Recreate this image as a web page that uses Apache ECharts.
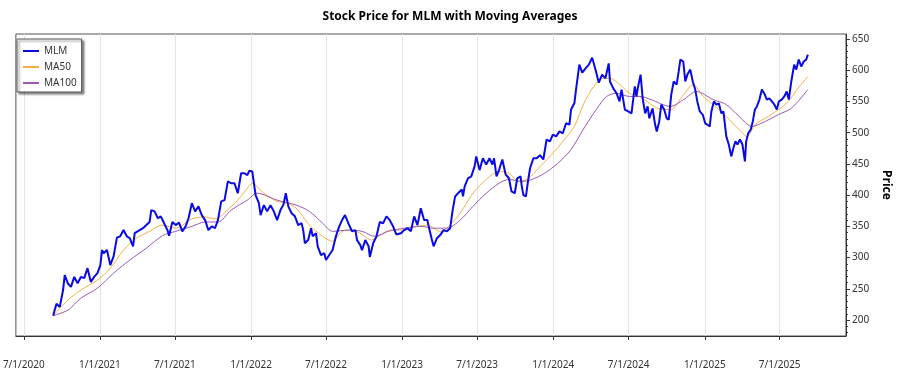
<!DOCTYPE html>
<html>
<head>
<meta charset="utf-8">
<script src="https://cdn.jsdelivr.net/npm/echarts@6/dist/echarts.min.js"></script>
<style>
html,body{margin:0;padding:0;background:#fff;}
#chart{width:900px;height:375px;}
</style>
</head>
<body>
<div id="chart"></div>
<script>
const mlmDates = ['2020-09-10','2020-09-18','2020-09-26','2020-10-04','2020-10-08','2020-10-16','2020-10-23','2020-10-31','2020-11-08','2020-11-16','2020-11-24','2020-12-02','2020-12-10','2020-12-18','2020-12-26',
'2021-01-02','2021-01-06','2021-01-10','2021-01-18','2021-01-26','2021-02-03','2021-02-11','2021-02-19','2021-02-27','2021-03-07','2021-03-14','2021-03-22','2021-03-26','2021-04-07','2021-04-15','2021-04-23','2021-05-01','2021-05-05','2021-05-13','2021-05-21','2021-05-28','2021-06-05','2021-06-13','2021-06-17','2021-06-25','2021-07-03','2021-07-11','2021-07-19','2021-07-27','2021-08-03','2021-08-11','2021-08-19','2021-08-27','2021-09-04','2021-09-12','2021-09-20','2021-09-28','2021-10-06','2021-10-13','2021-10-21','2021-10-29','2021-11-06','2021-11-14','2021-11-22','2021-11-30','2021-12-08','2021-12-16','2021-12-23','2021-12-28',
'2022-01-04','2022-01-08','2022-01-12','2022-01-20','2022-01-24','2022-02-01','2022-02-09','2022-02-17','2022-02-25','2022-03-05','2022-03-13','2022-03-20','2022-03-26','2022-04-01','2022-04-09','2022-04-17','2022-04-25','2022-05-03','2022-05-07','2022-05-11','2022-05-19','2022-05-26','2022-05-30','2022-06-07','2022-06-11','2022-06-19','2022-06-27','2022-07-01','2022-07-09','2022-07-17','2022-07-25','2022-08-02','2022-08-09','2022-08-16','2022-08-24','2022-09-02','2022-09-10','2022-09-14','2022-09-22','2022-09-26','2022-10-04','2022-10-12','2022-10-15','2022-10-23','2022-10-31','2022-11-08','2022-11-16','2022-11-24','2022-12-02','2022-12-10','2022-12-18','2022-12-29',
'2023-01-06','2023-01-14','2023-01-22','2023-01-30','2023-02-07','2023-02-15','2023-02-23','2023-03-03','2023-03-06','2023-03-14','2023-03-18','2023-03-26','2023-04-03','2023-04-11','2023-04-19','2023-04-27','2023-05-03','2023-05-09','2023-05-16','2023-05-25','2023-05-28','2023-06-01','2023-06-09','2023-06-17','2023-06-25','2023-06-29','2023-07-07','2023-07-15','2023-07-23','2023-07-31','2023-08-07','2023-08-11','2023-08-17','2023-08-23','2023-08-31','2023-09-08','2023-09-16','2023-09-22','2023-09-30','2023-10-06','2023-10-14','2023-10-17','2023-10-21','2023-10-27','2023-11-01','2023-11-06','2023-11-14','2023-11-22','2023-11-30','2023-12-08','2023-12-16','2023-12-24','2023-12-31',
'2024-01-08','2024-01-16','2024-01-24','2024-02-01','2024-02-09','2024-02-13','2024-02-21','2024-02-25','2024-03-04','2024-03-11','2024-03-19','2024-03-27','2024-04-04','2024-04-12','2024-04-20','2024-04-28','2024-05-06','2024-05-14','2024-05-17','2024-05-25','2024-06-02','2024-06-09','2024-06-14','2024-06-22','2024-06-30','2024-07-08','2024-07-16','2024-07-20','2024-07-24','2024-07-30','2024-08-04','2024-08-10','2024-08-16','2024-08-20','2024-08-28','2024-09-03','2024-09-07','2024-09-13','2024-09-18','2024-09-25','2024-10-01','2024-10-06','2024-10-12','2024-10-18','2024-10-25','2024-10-30','2024-11-03','2024-11-10','2024-11-15','2024-11-20','2024-11-27','2024-12-03','2024-12-09','2024-12-14','2024-12-20','2024-12-27',
'2025-01-02','2025-01-07','2025-01-13','2025-01-17','2025-01-23','2025-01-29','2025-02-04','2025-02-10','2025-02-15','2025-02-22','2025-02-28','2025-03-06','2025-03-11','2025-03-16','2025-03-21','2025-03-27','2025-04-02','2025-04-08','2025-04-11','2025-04-16','2025-04-22','2025-04-27','2025-05-02','2025-05-07','2025-05-13','2025-05-19','2025-05-26','2025-05-31','2025-06-06','2025-06-12','2025-06-18','2025-06-24','2025-06-29','2025-07-06','2025-07-12','2025-07-18','2025-07-23','2025-07-29','2025-08-05','2025-08-10','2025-08-16','2025-08-22','2025-08-28','2025-09-03','2025-09-07'];
const mlmValues = [207,226,221,248,272,258,253,269,259,269,267,283,261,269,275,
288,312,307,312,288,302,332,334,344,334,331,318,339,344,347,352,357,376,374,363,366,355,344,335,357,352,356,342,350,363,387,374,382,368,360,344,350,347,360,390,392,422,419,419,403,435,435,432,439,
438,419,400,387,368,384,374,384,374,360,376,384,403,382,371,366,352,355,344,323,328,347,334,339,318,304,307,296,304,312,334,350,360,368,355,342,344,328,320,312,328,318,301,323,334,357,355,366,360,350,337,339,
344,347,342,366,352,379,360,360,350,328,318,331,336,344,342,347,376,398,403,409,398,414,427,430,446,462,440,459,449,459,449,459,430,440,457,433,427,406,403,427,430,414,400,398,422,443,459,459,464,457,489,486,497,
494,502,499,515,513,537,547,569,609,596,603,609,620,601,580,593,587,611,582,571,563,550,569,537,534,531,574,558,574,593,555,531,542,523,539,513,502,518,545,537,523,521,561,582,577,598,617,614,582,593,601,582,569,550,534,529,
515,513,510,534,550,545,547,531,534,494,481,462,475,486,481,489,481,454,486,499,505,518,537,542,553,569,561,553,555,550,545,537,550,553,558,566,553,582,609,601,617,606,614,617,625];

const ma50Dates = ['2020-09-10','2020-10-16','2020-11-16','2020-12-26','2021-01-26','2021-02-27','2021-03-30','2021-05-01','2021-06-01','2021-07-03','2021-08-11','2021-09-12','2021-10-06','2021-10-29','2021-11-30','2021-12-23','2022-01-04','2022-02-01','2022-03-05','2022-03-28','2022-04-20','2022-05-22','2022-06-23','2022-07-17','2022-08-09','2022-09-02','2022-09-26','2022-10-19','2022-11-12','2022-12-05','2023-01-06','2023-02-07','2023-03-03','2023-04-03','2023-04-19','2023-05-21','2023-06-21','2023-07-23','2023-08-23','2023-09-16','2023-10-10','2023-11-02','2023-11-26','2023-12-27','2024-01-28','2024-02-21','2024-03-15','2024-04-08','2024-05-01','2024-05-17','2024-06-10','2024-07-03','2024-07-27','2024-08-08','2024-09-09','2024-10-10','2024-11-11','2024-12-04','2024-12-28','2025-01-21','2025-02-22','2025-03-25','2025-04-13','2025-05-03','2025-06-04','2025-06-28','2025-07-22','2025-08-14','2025-09-07'];
const ma50Values = [207,232,248,264,283,312,331,342,352,347,362,365,362,372,392,411,419,403,390,387,379,352,334,326,342,344,337,328,337,344,344,350,352,342,347,371,403,425,438,435,422,427,443,464,489,510,547,574,587,587,577,563,558,553,539,537,561,577,558,545,526,505,494,513,526,537,550,571,590];

const ma100Dates = ['2020-09-10','2020-10-16','2020-11-16','2020-12-26','2021-02-03','2021-03-14','2021-04-23','2021-06-01','2021-07-03','2021-08-11','2021-09-12','2021-10-13','2021-11-14','2021-12-23','2022-01-16','2022-03-05','2022-04-20','2022-05-22','2022-06-23','2022-07-17','2022-08-25','2022-09-26','2022-10-27','2022-11-28','2023-01-06','2023-02-15','2023-03-18','2023-04-19','2023-05-21','2023-06-21','2023-07-23','2023-08-23','2023-09-16','2023-10-17','2023-11-10','2023-12-11','2024-01-12','2024-02-13','2024-03-15','2024-04-16','2024-05-09','2024-06-02','2024-07-03','2024-07-27','2024-08-24','2024-10-10','2024-11-11','2024-12-12','2025-01-21','2025-02-22','2025-03-25','2025-04-25','2025-05-27','2025-06-28','2025-07-29','2025-09-07'];
const ma100Values = [207,216,235,251,275,296,315,335,342,350,357,357,376,392,403,392,384,374,355,342,344,342,334,342,347,350,347,347,360,382,403,419,425,422,425,435,451,473,507,539,558,563,558,558,553,542,553,566,553,545,526,510,518,529,539,569];

const xTickDates = ['2020-07-01','2021-01-01','2021-07-01','2022-01-01','2022-07-01','2023-01-01','2023-07-01','2024-01-01','2024-07-01','2025-01-01','2025-07-01'];
const xRange = ['2020-06-12','2025-12-08'];
const yTicks = [200,250,300,350,400,450,500,550,600,650];
const yMinorTicks = [180,190,210,220,230,240,260,270,280,290,310,320,330,340,360,370,380,390,410,420,430,440,460,470,480,490,510,520,530,540,560,570,580,590,610,620,630,640];
const yRange = [174.4, 658];

function ts(s){ const p = s.split('-').map(Number); return new Date(p[0], p[1]-1, p[2]).getTime(); }
function pairs(d, v){ return d.map((x,i)=>[ts(x), v[i]]); }

const FONT = 'Noto Sans';
const C_MLM = '#0a0ae6', C_MA50 = '#f5b041', C_MA100 = '#9b59b6';
const chart = echarts.init(document.getElementById('chart'), null, {renderer:'canvas'});
chart.setOption({
  animation:false,
  backgroundColor:'#fff',
  textStyle:{fontFamily:FONT},
  title:{text:'Stock Price for MLM with Moving Averages', left:'center', top:6,
    textStyle:{fontFamily:FONT, fontSize:12, fontWeight:'bold', color:'#000'}},
  legend:{orient:'vertical', left:17, top:39, padding:[5,5,2,6], itemGap:2, itemWidth:16, itemHeight:2,
    backgroundColor:'#fff', borderColor:'#555', borderWidth:1,
    shadowColor:'rgba(0,0,0,0.45)', shadowBlur:2, shadowOffsetX:2, shadowOffsetY:2,
    textStyle:{fontFamily:FONT, fontSize:10, color:'#333', lineHeight:14},
    data:[
      {name:'MLM', icon:'rect', itemStyle:{color:C_MLM}},
      {name:'MA50', icon:'rect', itemStyle:{color:C_MA50}},
      {name:'MA100', icon:'rect', itemStyle:{color:C_MA100}}
    ]},
  grid:{left:12, right:41, top:34, bottom:39, show:true, borderColor:'#555', borderWidth:1, containLabel:false},
  xAxis:{type:'value', min:ts(xRange[0]), max:ts(xRange[1]),
    axisLine:{show:true, lineStyle:{color:'#333'}},
    axisTick:{show:true, length:4, customValues:xTickDates.map(ts), lineStyle:{color:'#333'}},
    axisLabel:{customValues:xTickDates.map(ts), margin:24, fontSize:10, color:'#333', fontFamily:FONT,
      formatter:function(v){ const d=new Date(v); return (d.getMonth()+1)+'/'+d.getDate()+'/'+d.getFullYear(); }},
    splitLine:{show:true, lineStyle:{color:'#e4e4e4', width:1}}},
  yAxis:[{type:'value', position:'right', min:yRange[0], max:yRange[1],
    axisLine:{show:true, lineStyle:{color:'#333'}},
    axisTick:{show:true, length:4, customValues:yTicks, lineStyle:{color:'#333'}},
    axisLabel:{customValues:yTicks, margin:6, fontSize:10, color:'#333', fontFamily:FONT},
    splitLine:{show:false},
    name:'Price', nameLocation:'middle', nameRotate:-90, nameGap:30,
    nameTextStyle:{fontFamily:FONT, fontSize:12, fontWeight:'bold', color:'#000'}},
   {type:'value', position:'right', min:yRange[0], max:yRange[1],
    axisLine:{show:false}, axisLabel:{show:false}, splitLine:{show:false},
    axisTick:{show:true, length:2, customValues:yMinorTicks, lineStyle:{color:'#333'}}}],
  series:[
    {name:'MLM', type:'line', data:pairs(mlmDates, mlmValues), symbol:'none', lineStyle:{color:C_MLM, width:2}, itemStyle:{color:C_MLM}, z:3},
    {name:'MA50', type:'line', data:pairs(ma50Dates, ma50Values), symbol:'none', smooth:0.3, lineStyle:{color:C_MA50, width:1}, itemStyle:{color:C_MA50}, z:2},
    {name:'MA100', type:'line', data:pairs(ma100Dates, ma100Values), symbol:'none', smooth:0.3, lineStyle:{color:C_MA100, width:1}, itemStyle:{color:C_MA100}, z:2}
  ]
});
</script>
</body>
</html>
